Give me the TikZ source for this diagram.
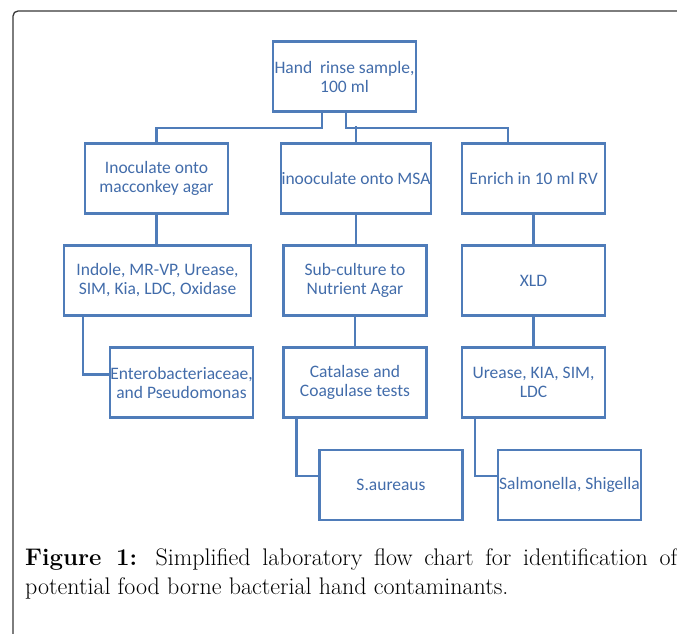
\documentclass[tikz,border=0pt]{standalone}
\usepackage{fontspec}
\newfontfamily\boxfont{Carlito}
\usetikzlibrary{positioning}
\definecolor{boxblue}{RGB}{79,124,185}
\definecolor{txtblue}{RGB}{66,108,170}
\definecolor{framegray}{RGB}{55,55,55}

\begin{document}
\begin{tikzpicture}[
  x=1pt, y=-1pt,
  bx/.style={draw=boxblue, line width=2.4pt, text=txtblue, align=center,
    font=\boxfont\fontsize{17.5}{19}\selectfont,
    minimum width=143pt, minimum height=70pt, inner sep=0.5pt},
  ln/.style={draw=boxblue, line width=2.4pt}]
\useasboundingbox (0,0) rectangle (677,634);

% ===== frame =====
\draw[framegray, line width=1.3pt, rounded corners=5pt] (13,700) -- (13,11) -- (720,11);

% ===== top =====
\node[bx] (hand) at (344.5,76.5) {Hand\ \ rinse sample,\\100 ml};

% ===== row 1 =====
\node[bx] (mac) at (156.5,178.5) {Inoculate onto\\macconkey agar};
\node[bx, minimum width=150pt] (msa) at (356,178.5) {inooculate onto MSA};
\node[bx] (rv)  at (533.5,178.5) {Enrich in 10 ml RV};

% ===== row 2 =====
\node[bx, minimum width=187pt] (ind) at (157.5,280.5) {Indole, MR-VP, Urease,\\SIM, Kia, LDC, Oxidase};
\node[bx] (sub) at (355,280.5) {Sub-culture to\\Nutrient Agar};
\node[bx] (xld) at (533.5,280.5) {XLD};

% ===== row 3 =====
\node[bx, minimum width=141pt] (ent) at (181.5,382.5) {Enterobacteriaceae,\\and Pseudomonas};
\node[bx] (cat) at (355,382.5) {Catalase and\\Coagulase tests};
\node[bx] (ure) at (533.5,382.5) {Urease, KIA, SIM,\\LDC};

% ===== row 4 =====
\node[bx] (saur) at (391,485) {S.aureaus};
\node[bx] (sal)  at (569.5,485) {Salmonella, Shigella};

% ===== edges =====
\draw[ln] ([xshift=-22.5pt]hand.south) -- ++(0,15) -| (mac.north);
\draw[ln] ([xshift=1.5pt]hand.south) -- ++(0,15) -| ([xshift=-25.5pt]rv.north);
\draw[ln] (msa.north) -- ++(0,-16);
\draw[ln] (mac.south) -- (mac.south |- ind.north);
\draw[ln] (msa.south) -- (msa.south |- sub.north);
\draw[ln] (rv) -- (xld);
\draw[ln] (sub) -- (cat);
\draw[ln] (xld) -- (ure);
\draw[ln] ([xshift=20pt]ind.south west) |- ([yshift=8pt]ent.west);
\draw[ln] ([xshift=14pt]cat.south west) |- ([yshift=9pt]saur.west);
\draw[ln] ([xshift=14pt]ure.south west) |- ([yshift=9pt]sal.west);

% ===== caption =====
\node[anchor=north west, text width=652pt, align=justify, inner sep=0pt,
  font=\fontsize{24}{29}\selectfont] (cap) at (25,548)
  {\textbf{Figure 1:} Simplified laboratory flow chart for identification of\linebreak
   potential food borne bacterial hand contaminants.};

\end{tikzpicture}
\end{document}
